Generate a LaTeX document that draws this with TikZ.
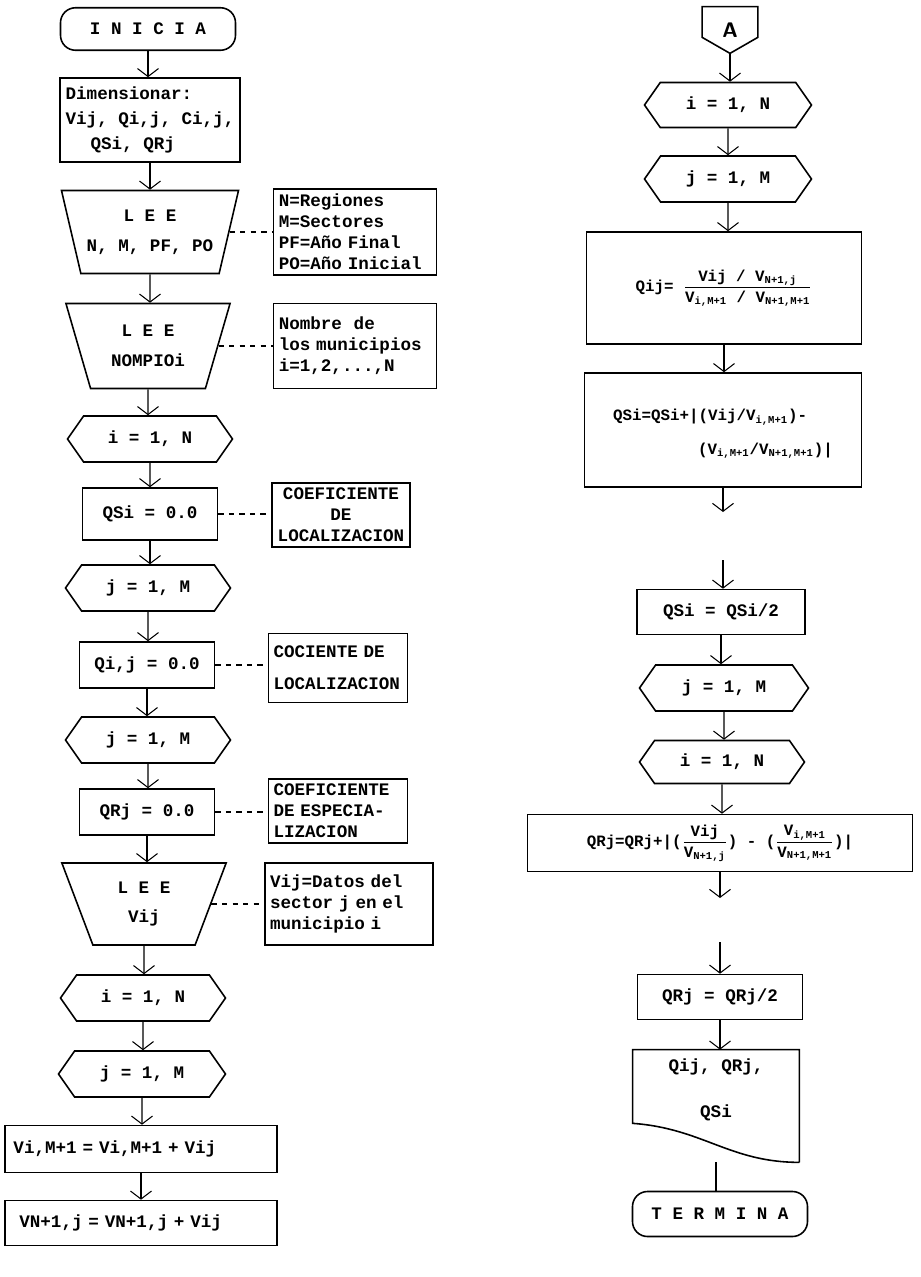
\documentclass[tikz,border=0pt]{standalone}
\usepackage{amsmath}
\usepackage{fontspec}
\setmonofont{Liberation Mono}
\usetikzlibrary{arrows.meta, shapes.geometric, shapes.symbols}

\begin{document}
\begin{tikzpicture}[x=0.2mm, y=-0.2mm, >={Straight Barb[length=1.6mm,width=4.2mm]},
    every node/.style={font=\ttfamily\bfseries},
    linea/.style={line width=0.9pt},
    flujo/.style={->, line width=0.6pt},
    nota/.style={dashed, line width=0.6pt},
    terminal/.style={draw, linea, rounded corners=3mm, minimum width=35mm, minimum height=8.5mm},
    proceso/.style={draw, linea, minimum width=27mm, minimum height=9.2mm},
    lectura/.style={draw, linea, trapezium, trapezium stretches=true, shape border rotate=180,
        trapezium left angle=71, trapezium right angle=71, minimum width=33mm, minimum height=16.6mm, align=center},
    ciclo/.style={draw, linea, signal, signal to=west and east, signal pointer angle=110,
        minimum width=33mm, minimum height=9.2mm},
    comentario/.style={draw, line width=0.7pt, align=left, inner sep=1mm, text width=#1}]
    \useasboundingbox (0,0) rectangle (921,1277);

    % 1. Columna izquierda: lectura de datos
    \node[terminal] (inicia) at (148,29) {I N I C I A};
    \node[proceso, minimum width=33mm, minimum height=16.8mm, align=left] (dimen) at (150,120)
        {Dimensionar:\\[2pt] Vij, Qi,j, Ci,j,\\[2pt] \hspace*{5mm}QSi, QRj};
    \node[lectura] (lee1) at (150,232) {L E E\\[5pt] N, M, PF, PO};
    \node[comentario=30.5mm, minimum height=16.6mm] (nota1) at (355,232)
        {N=Regiones\\M=Sectores\\PF=Año Final\\PO=Año Inicial};
    \node[lectura, minimum height=17mm] (lee2) at (148,346) {L E E\\[5pt] NOMPIOi};
    \node[comentario=30.5mm, minimum height=17mm] (nota2) at (355,346)
        {Nombre \ de\\los municipios\\i=1,2,...,N};

    % 2. Ciclos de inicializacion
    \node[ciclo] (ci1) at (150,439) {i = 1, N};
    \node[proceso, minimum height=10.4mm] (qs0) at (150,514) {QSi = 0.0};
    \node[comentario=25.6mm, align=center] (nota3) at (341,515) {COEFICIENTE\\DE\\LOCALIZACION};
    \node[ciclo] (cj1) at (148,588) {j = 1, M};
    \node[proceso] (q0) at (147,665) {Qi,j = 0.0};
    \node[comentario=25.8mm, minimum height=13.8mm] (nota4) at (338,668) {COCIENTE DE\\[6pt]LOCALIZACION};
    \node[ciclo] (cj2) at (148,740) {j = 1, M};
    \node[proceso] (qr0) at (147,812) {QRj = 0.0};
    \node[comentario=25.8mm] (nota5) at (338,811) {COEFICIENTE\\DE ESPECIA-\\LIZACION};
    \node[lectura, minimum height=16.4mm] (lee3) at (144,904) {L E E\\[5pt] Vij};
    \node[comentario=31.6mm, minimum height=16.4mm] (nota6) at (349,904)
        {Vij=Datos del\\sector j en el\\municipio i};

    % 3. Totales por fila y columna
    \node[ciclo] (ci2) at (143,998) {i = 1, N};
    \node[ciclo, minimum width=33.4mm] (cj3) at (142,1074) {j = 1, M};
    \node[proceso, minimum width=54.4mm, minimum height=9.4mm, text width=51mm, align=left] (sumfila)
        at (141,1149) {Vi,M+1 = Vi,M+1 + Vij};
    \node[proceso, minimum width=54.4mm, minimum height=9mm, text width=51mm, align=left] (sumcol)
        at (141,1223) {\ VN+1,j = VN+1,j + Vij};

    \draw[flujo] (inicia) -- (inicia |- dimen.north);
    \draw[flujo] (dimen) -- (dimen |- lee1.north);
    \draw[flujo] (lee1) -- (lee1 |- lee2.north);
    \draw[flujo] (lee2) -- (lee2 |- ci1.north);
    \draw[flujo] (ci1) -- (ci1 |- qs0.north);
    \draw[flujo] (qs0) -- (qs0 |- cj1.north);
    \draw[flujo] (cj1) -- (cj1 |- q0.north);
    \draw[flujo] (q0) -- (q0 |- cj2.north);
    \draw[flujo] (cj2) -- (cj2 |- qr0.north);
    \draw[flujo] (qr0) -- (qr0 |- lee3.north);
    \draw[flujo] (lee3) -- (lee3 |- ci2.north);
    \draw[flujo] (ci2) -- (ci2 |- cj3.north);
    \draw[flujo] (cj3) -- (cj3 |- sumfila.north);
    \draw[flujo] (sumfila) -- (sumfila |- sumcol.north);

    \draw[nota] (lee1.east) -- (lee1.east -| nota1.west);
    \draw[nota] (lee2.east) -- (lee2.east -| nota2.west);
    \draw[nota] (qs0.east) -- (qs0.east -| nota3.west);
    \draw[nota] (q0.east) -- (q0.east -| nota4.west);
    \draw[nota] (qr0.east) -- (qr0.east -| nota5.west);
    \draw[nota] (lee3.east) -- (lee3.east -| nota6.west);

    % 4. Columna derecha: cocientes y coeficientes
    \node[minimum width=11mm, minimum height=9.2mm, font=\sffamily\bfseries\large] (conA) at (730,30) {A};
    \draw[linea] (conA.north west) -- (conA.north east) -- ([yshift=3.2mm]conA.south east)
        -- (conA.south) -- ([yshift=3.2mm]conA.south west) -- cycle;
    \node[ciclo, minimum width=33.4mm, minimum height=9mm] (ci3) at (728,105) {i = 1, N};
    \node[ciclo, minimum width=33.4mm] (cj4) at (728,179) {j = 1, M};
    \node[proceso, minimum width=55mm, minimum height=22.4mm, font=\ttfamily\bfseries\small] (qij) at (724,288)
        {Qij= $\dfrac{\mbox{Vij / V\textsubscript{N+1,j}}}{\mbox{V\textsubscript{i,M+1} / V\textsubscript{N+1,M+1}}}$};
    \node[proceso, minimum width=55.4mm, minimum height=22.8mm, align=left, font=\ttfamily\bfseries\small] (qsacu)
        at (723,430) {\\ QSi=QSi+|(Vij/V\textsubscript{i,M+1})-\\[8pt]
        \hspace*{17mm}(V\textsubscript{i,M+1}/V\textsubscript{N+1,M+1})|};
    \coordinate (cortes) at (723,512);
    \coordinate (sigues) at (723,560);
    \node[proceso, minimum width=33.6mm, minimum height=9mm] (qsmed) at (721,612) {QSi = QSi/2};
    \node[ciclo, minimum width=33.8mm] (cj5) at (724,688) {j = 1, M};
    \node[ciclo, minimum height=8.6mm] (ci4) at (722,762) {i = 1, N};
    \node[proceso, minimum width=77mm, minimum height=11.4mm, font=\ttfamily\bfseries\small] (qracu) at (720,843)
        {QRj=QRj+|($\dfrac{\mbox{Vij}}{\mbox{V\textsubscript{N+1,j}}}$) -
        ($\dfrac{\mbox{V\textsubscript{i,M+1}}}{\mbox{V\textsubscript{N+1,M+1}}}$)|};
    \coordinate (cortr) at (720,898);
    \coordinate (sigr) at (720,942);
    \node[proceso, minimum width=33mm, minimum height=9mm] (qrmed) at (720,997) {QRj = QRj/2};

    % 5. Salida de resultados
    \node[minimum width=33.2mm, minimum height=22.4mm, align=center] (salida) at (716,1106)
        {Qij, QRj,\\[14pt] QSi\\[8pt]};
    \draw[linea] (salida.south east) -- (salida.north east) -- (salida.north west)
        -- ([yshift=7.8mm]salida.south west) .. controls +(14mm,-1mm) and +(-14mm,0mm) .. (salida.south east);
    \node[terminal, minimum height=9mm] (termina) at (720,1214) {T E R M I N A};

    \draw[flujo] (conA.south) -- (conA.south |- ci3.north);
    \draw[flujo] (ci3) -- (ci3 |- cj4.north);
    \draw[flujo] (cj4) -- (cj4 |- qij.north);
    \draw[flujo] (qij) -- (qij |- qsacu.north);
    \draw[flujo] (qsacu) -- (cortes);
    \draw[flujo] (sigues) -- (sigues |- qsmed.north);
    \draw[flujo] (qsmed) -- (qsmed |- cj5.north);
    \draw[flujo] (cj5) -- (cj5 |- ci4.north);
    \draw[flujo] (ci4) -- (ci4 |- qracu.north);
    \draw[flujo] (qracu) -- (cortr);
    \draw[flujo] (sigr) -- (sigr |- qrmed.north);
    \draw[flujo] (qrmed) -- (qrmed |- salida.north);
    \draw[line width=0.6pt] (salida.south) -- (salida.south |- termina.north);
\end{tikzpicture}
\end{document}
